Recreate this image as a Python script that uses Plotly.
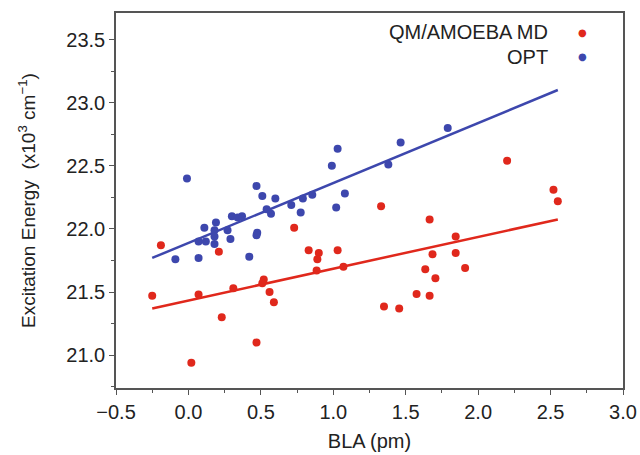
import plotly.graph_objects as go

# OPT (blue) points
opt_x = [-0.01, -0.09, 0.07, 0.07, 0.12, 0.11, 0.19, 0.18, 0.18, 0.18, 0.27, 0.29, 0.30, 0.34,
         0.37, 0.47, 0.51, 0.60, 0.54, 0.57, 0.475, 0.47, 0.42, 0.71, 0.775, 0.79, 0.855, 0.99,
         1.03, 1.08, 1.02, 1.465, 1.38, 1.79]
opt_y = [22.40, 21.76, 21.77, 21.90, 21.90, 22.01, 22.05, 21.99, 21.94, 21.88, 21.99, 21.92, 22.10, 22.09,
         22.10, 22.34, 22.26, 22.24, 22.155, 22.12, 21.97, 21.95, 21.78, 22.19, 22.13, 22.24, 22.27, 22.50,
         22.635, 22.28, 22.17, 22.685, 22.51, 22.80]

# QM/AMOEBA MD (red) points
md_x = [-0.19, 0.21, -0.25, 0.07, 0.31, 0.52, 0.51, 0.56, 0.59, 0.23, 0.47, 0.02, 0.73, 0.83,
        0.90, 0.89, 0.885, 1.03, 1.07, 1.33, 1.35, 1.455, 1.575, 1.665, 1.635, 1.685, 1.705, 1.665,
        1.845, 1.845, 1.91, 2.20, 2.52, 2.55]
md_y = [21.87, 21.82, 21.47, 21.48, 21.53, 21.60, 21.57, 21.50, 21.42, 21.30, 21.10, 20.94, 22.01, 21.83,
        21.81, 21.76, 21.67, 21.83, 21.70, 22.18, 21.385, 21.37, 21.485, 21.47, 21.68, 21.80, 21.61, 22.075,
        21.94, 21.81, 21.69, 22.54, 22.31, 22.22]

# Linear fit lines (endpoints)
fit_x = [-0.25, 2.55]
opt_fit_y = [21.77, 23.10]
md_fit_y = [21.37, 22.075]

series_labels = ["QM/AMOEBA MD", "OPT"]

RED = "#e0281c"
BLUE = "#3d47ad"
FONT = "Liberation Sans, Arial, sans-serif"
TXT = "#222222"

fig = go.Figure()
fig.add_trace(go.Scatter(x=fit_x, y=opt_fit_y, mode="lines", line=dict(color=BLUE, width=2.5), showlegend=False))
fig.add_trace(go.Scatter(x=fit_x, y=md_fit_y, mode="lines", line=dict(color=RED, width=2.5), showlegend=False))
fig.add_trace(go.Scatter(x=opt_x, y=opt_y, mode="markers", name=series_labels[1],
                         marker=dict(color=BLUE, size=8), showlegend=False))
fig.add_trace(go.Scatter(x=md_x, y=md_y, mode="markers", name=series_labels[0],
                         marker=dict(color=RED, size=8), showlegend=False))

axis_common = dict(
    showline=True, linecolor="#555555", linewidth=1.5, mirror=True,
    ticks="outside", ticklen=5, tickwidth=1.2, tickcolor="#555555",
    showgrid=False, zeroline=False, automargin=False,
    tickfont=dict(family=FONT, size=20, color=TXT),
    minor=dict(ticks="outside", ticklen=3, tickwidth=1, tickcolor="#555555", dtick=0.25),
)

fig.update_xaxes(range=[-0.5, 3.0], dtick=0.5, tickformat=".1f",
                 title=dict(text="BLA (pm)", font=dict(family=FONT, size=20, color=TXT), standoff=12),
                 **axis_common)
fig.update_yaxes(range=[20.74, 23.71], tick0=21.0, dtick=0.5, tickformat=".1f",
                 title=dict(text="Excitation Energy  (x10<sup>3</sup> cm<sup>−1</sup>)",
                            font=dict(family=FONT, size=19, color=TXT), standoff=26),
                 **axis_common)

legend_items = [(series_labels[0], RED, 0.949), (series_labels[1], BLUE, 0.883)]
for label, col, ypos in legend_items:
    fig.add_annotation(
        xref="paper", yref="paper", x=0.857, y=ypos, xanchor="right", yanchor="middle",
        showarrow=False, text=label,
        font=dict(family=FONT, size=20, color=TXT),
    )
    fig.add_annotation(
        xref="paper", yref="paper", x=0.921, y=ypos, xanchor="center", yanchor="middle",
        showarrow=False, text="●",
        font=dict(family="DejaVu Sans", size=10, color=col),
    )

fig.update_layout(
    width=640, height=455,
    margin=dict(l=116, r=17, t=13, b=67),
    paper_bgcolor="white", plot_bgcolor="white",
    font=dict(family=FONT, color=TXT),
    showlegend=False,
)

fig.write_html("out.html", config={"displayModeBar": False},
               post_script="document.body.style.margin='0';document.body.style.overflow='hidden';")
